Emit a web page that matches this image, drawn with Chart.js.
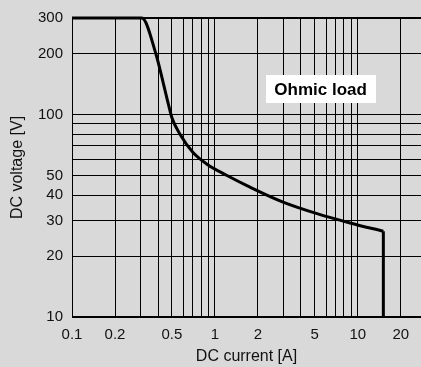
<!DOCTYPE html>
<html>
<head>
<meta charset="utf-8">
<script src="https://cdn.jsdelivr.net/npm/chart.js@4.4.0/dist/chart.umd.js"></script>
<style>
  html, body { margin: 0; padding: 0; background: #d9d9d9; }
  #wrap { width: 421px; height: 367px; position: relative; }
</style>
</head>
<body>
<div id="wrap"><canvas id="c"></canvas></div>
<script>
// ---- data ----
const currentA = [0.1, 0.308, 0.387, 0.437, 0.474, 0.501, 0.57, 0.703, 0.881, 1.216, 1.762, 3.0, 5.19, 8.83, 15.1, 15.1];
const voltageV = [300, 300, 198.7, 141.5, 111.6, 96.3, 80.0, 64.9, 56.9, 50.0, 43.8, 36.96, 32.4, 29.15, 26.5, 10];

const xGridValues = [0.1, 0.2, 0.3, 0.4, 0.5, 0.6, 0.7, 0.8, 0.9, 1, 2, 3, 4, 5, 6, 7, 8, 9, 10, 20];
const xTickLabels = [0.1, 0.2, 0.5, 1, 2, 5, 10, 20];
const yGridValues = [10, 20, 30, 40, 50, 60, 70, 80, 90, 100, 200, 300];
const yTickLabels = [10, 20, 30, 40, 50, 100, 200, 300];

const loadLabel = 'Ohmic load';
const xTitle = 'DC current [A]';
const yTitle = 'DC voltage [V]';

// ---- build datasets ----
const pts = currentA.map((x, i) => ({ x: x, y: voltageV[i] }));
const curvePts = pts.slice(0, pts.length - 1);
const dropPts = pts.slice(pts.length - 2);

const FONT = '"Liberation Sans", Arial, Helvetica, sans-serif';

const labelBox = {
  id: 'labelBox',
  afterDatasetsDraw(chart) {
    const { ctx, scales: { x, y } } = chart;
    const cx = x.getPixelForValue(5.49);
    const cy = y.getPixelForValue(132.2);
    ctx.save();
    ctx.font = 'bold 17px ' + FONT;
    const w = ctx.measureText(loadLabel).width + 17;
    const h = 28;
    ctx.fillStyle = '#ffffff';
    ctx.fillRect(Math.round(cx - w / 2), Math.round(cy - h / 2) - 1, Math.round(w), h);
    ctx.fillStyle = '#000000';
    ctx.textAlign = 'center';
    ctx.textBaseline = 'middle';
    ctx.fillText(loadLabel, cx, cy);
    ctx.restore();
  }
};

new Chart(document.getElementById('c'), {
  type: 'scatter',
  data: {
    datasets: [
      {
        data: curvePts,
        showLine: true,
        borderColor: '#000',
        borderWidth: 3,
        pointRadius: 0,
        cubicInterpolationMode: 'monotone',
        clip: false
      },
      {
        data: dropPts,
        showLine: true,
        borderColor: '#000',
        borderWidth: 3,
        pointRadius: 0,
        clip: false
      }
    ]
  },
  options: {
    responsive: true,
    maintainAspectRatio: false,
    animation: false,
    events: [],
    layout: { padding: { top: 17, right: 0, bottom: 0, left: 0 } },
    plugins: { legend: { display: false }, tooltip: { enabled: false } },
    scales: {
      x: {
        type: 'logarithmic',
        min: 0.1,
        max: 27.7,
        afterBuildTicks: (s) => { s.ticks = xGridValues.map(v => ({ value: v })); },
        afterFit: (s) => { s.height = 50; },
        grid: { color: '#000', lineWidth: 1, drawTicks: false },
        border: { display: true, color: '#000', width: 1 },
        ticks: {
          autoSkip: false, maxRotation: 0, padding: 9,
          color: '#111', font: { family: FONT, size: 15 },
          callback: (v) => xTickLabels.includes(v) ? String(v) : ''
        },
        title: { display: true, text: xTitle, color: '#111', font: { family: FONT, size: 16 }, padding: { top: 0, bottom: 1 } }
      },
      y: {
        type: 'logarithmic',
        min: 10,
        max: 300,
        afterBuildTicks: (s) => { s.ticks = yGridValues.map(v => ({ value: v })); },
        afterFit: (s) => { s.width = 72; },
        grid: {
          color: '#000',
          lineWidth: (c) => (c.tick && (c.tick.value === 300 || c.tick.value === 10)) ? 2 : 1,
          drawTicks: false
        },
        border: { display: true, color: '#000', width: 1 },
        ticks: {
          autoSkip: false, padding: 9,
          color: '#111', font: { family: FONT, size: 15 },
          callback: (v) => yTickLabels.includes(v) ? String(v) : ''
        },
        title: { display: true, text: yTitle, color: '#111', font: { family: FONT, size: 16 }, padding: { top: 8, bottom: 0 } }
      }
    }
  },
  plugins: [labelBox]
});
</script>
</body>
</html>
